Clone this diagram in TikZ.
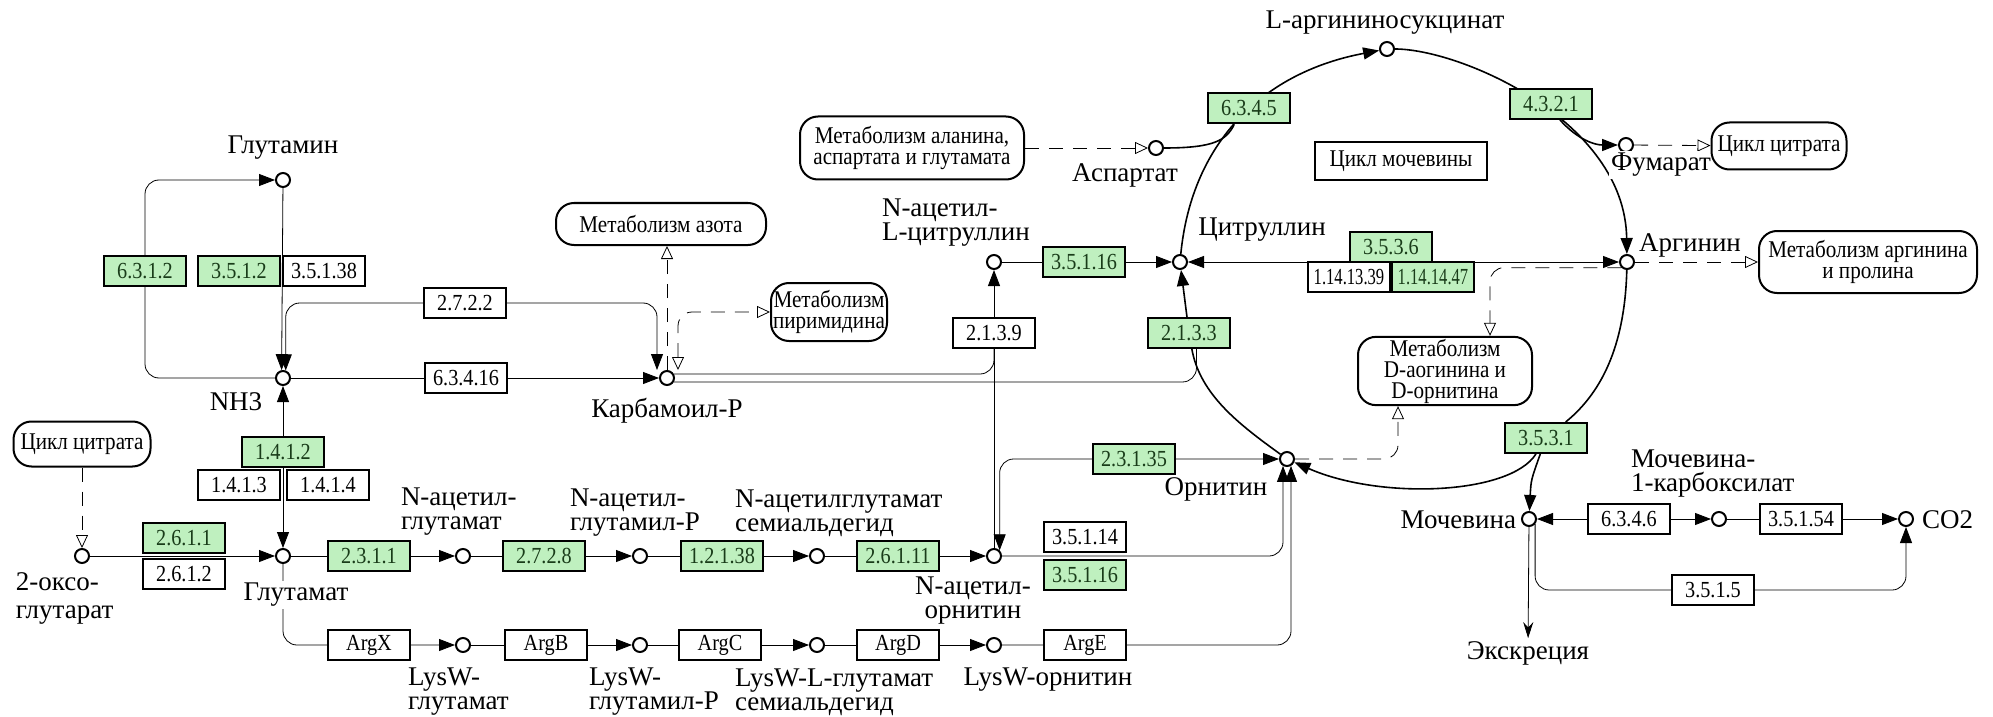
\documentclass[tikz,border=0pt]{standalone}
\usepackage{fontspec}
\setmainfont{Liberation Serif}
\newfontfamily\keggfont{Liberation Serif}
\newfontfamily\keggcond[FakeStretch=0.88]{Liberation Serif}
\usepackage{graphicx}
\usetikzlibrary{arrows.meta, backgrounds}
\definecolor{kegggreen}{RGB}{191,240,191}
\definecolor{keggtext}{RGB}{25,60,25}
\newcommand{\squeeze}[1]{\scalebox{0.82}[1]{#1}}
\tikzset{otri/.tip={Triangle[open,length=6.5pt,width=6pt]}}

\begin{document}
\begin{tikzpicture}[x=0.5pt, y=-0.5pt, line width=1pt,
  >={Triangle[length=8pt,width=6pt]},
  cpd/.style={circle, draw, fill=white, minimum size=7pt, inner sep=0pt},
  enz/.style={rectangle, draw, fill=white, minimum width=41pt, minimum height=15pt, inner sep=0pt, font=\keggcond\fontsize{11.5}{12}\selectfont},
  enzg/.style={enz, fill=kegggreen, text=keggtext},
  lbl/.style={fill=white, inner sep=1pt, font=\keggfont\fontsize{13.5}{12}\selectfont},
  mapbox/.style={rectangle, rounded corners=9pt, draw, fill=white, inner sep=1pt, align=center, font=\keggcond\fontsize{12}{10.5}\selectfont},
  mapline/.style={dash pattern=on 7pt off 5pt, -otri},
  ringline/.style={line width=0.8pt}]
      \useasboundingbox (0,0) rectangle (1993,717);
      \node[cpd] (glutamine) at (283,180) {};
      \node[cpd] (nh3) at (283,378) {};
      \node[cpd] (glu) at (283,556) {};
      \node[cpd] (oxo) at (82,556) {};
      \node[cpd] (nag) at (463,556) {};
      \node[cpd] (nagp) at (640,556) {};
      \node[cpd] (nags) at (817,556) {};
      \node[cpd] (nao) at (994,556) {};
      \node[cpd] (lysglu) at (463,645) {};
      \node[cpd] (lysglup) at (640,645) {};
      \node[cpd] (lysglus) at (817,645) {};
      \node[cpd] (lysorn) at (994,645) {};
      \node[cpd] (cp) at (667,378) {};
      \node[cpd] (nacit) at (994,262) {};
      \node[cpd] (cit) at (1180,262) {};
      \node[cpd] (asp) at (1156,148) {};
      \node[cpd] (argsuc) at (1387,49) {};
      \node[cpd] (fum) at (1626,145) {};
      \node[cpd] (arg) at (1627,262) {};
      \node[cpd] (orn) at (1287,459) {};
      \node[cpd] (urea) at (1529,519) {};
      \node[cpd] (ureac) at (1719,519) {};
      \node[cpd] (co2) at (1906,519) {};

      \node[lbl] (glutamine-l) at (283,148) {Глутамин};
      \node[lbl] (nh3-l) at (236,402) {NH3};
      \node[lbl] (glu-l) at (296,595) {Глутамат};
      \node[lbl, anchor=west, align=left] (oxo-l) at (13,598) {2-оксо-\\[2pt]глутарат};
      \node[lbl, anchor=west, align=left] (nag-l) at (398,512) {N-ацетил-\\глутамат};
      \node[lbl, anchor=west, align=left] (nagp-l) at (567,513) {N-ацетил-\\глутамил-P};
      \node[lbl, anchor=west, align=left] (nags-l) at (732,513) {N-ацетилглутамат\\семиальдегид};
      \node[lbl, align=center] (nao-l) at (973,601) {N-ацетил-\\орнитин};
      \node[lbl, anchor=west, align=left] (lysglu-l) at (405,692) {LysW-\\глутамат};
      \node[lbl, anchor=west, align=left] (lysglup-l) at (586,692) {LysW-\\глутамил-P};
      \node[lbl, anchor=west, align=left] (lysglus-l) at (732,692) {LysW-L-глутамат\\семиальдегид};
      \node[lbl] (lysorn-l) at (1048,680) {LysW-орнитин};
      \node[lbl] (cp-l) at (667,411) {Карбамоил-P};
      \node[lbl, anchor=west, align=left] (nacit-l) at (879,223) {N-ацетил-\\L-цитруллин};
      \node[lbl] (cit-l) at (1262,230) {Цитруллин};
      \node[lbl] (asp-l) at (1125,175) {Аспартат};
      \node[lbl] (argsuc-l) at (1385,23) {L-аргининосукцинат};
      \node[lbl] (fum-l) at (1661,165) {Фумарат};
      \node[lbl] (arg-l) at (1690,245) {Аргинин};
      \node[lbl] (orn-l) at (1216,489) {Орнитин};
      \node[lbl, anchor=east] (urea-l) at (1519,520) {Мочевина};
      \node[lbl, anchor=west, align=left] (ureac-l) at (1628,474) {Мочевина-\\1-карбоксилат};
      \node[lbl, anchor=west] (co2-l) at (1919,520) {CO2};
      \node[lbl] (excr) at (1528,653) {Экскреция};

      \node[enzg] (e6312) at (145,271) {6.3.1.2};
      \node[enzg] (e3512) at (239,271) {3.5.1.2};
      \node[enz] (e35138) at (324,271) {3.5.1.38};
      \node[enz] (e2722) at (465,303) {2.7.2.2};
      \node[enz] (e63416) at (466,378) {6.3.4.16};
      \node[enzg] (e1412) at (283,452) {1.4.1.2};
      \node[enz] (e1413) at (239,485) {1.4.1.3};
      \node[enz] (e1414) at (328,485) {1.4.1.4};
      \node[enzg] (e2611) at (184,538) {2.6.1.1};
      \node[enz] (e2612) at (184,574) {2.6.1.2};
      \node[enzg] (e2311) at (369,556) {2.3.1.1};
      \node[enzg] (e2728) at (544,556) {2.7.2.8};
      \node[enzg] (e12138) at (722,556) {1.2.1.38};
      \node[enzg] (e26111) at (898,556) {2.6.1.11};
      \node[enz] (argx) at (369,645) {ArgX};
      \node[enz] (argb) at (546,645) {ArgB};
      \node[enz] (argc) at (720,645) {ArgC};
      \node[enz] (argd) at (898,645) {ArgD};
      \node[enz] (arge) at (1085,645) {ArgE};
      \node[enz] (e35114) at (1085,537) {3.5.1.14};
      \node[enzg] (e35116b) at (1085,575) {3.5.1.16};
      \node[enzg] (e23135) at (1134,459) {2.3.1.35};
      \node[enz] (e2139) at (994,333) {2.1.3.9};
      \node[enzg] (e2133) at (1189,333) {2.1.3.3};
      \node[enzg] (e35116) at (1084,262) {3.5.1.16};
      \node[enzg] (e6345) at (1249,108) {6.3.4.5};
      \node[enzg] (e4321) at (1551,104) {4.3.2.1};
      \node[enzg] (e3536) at (1391,247) {3.5.3.6};
      \node[enz] (e1141339) at (1349,277) {\squeeze{1.14.13.39}};
      \node[enzg] (e1141447) at (1433,277) {\squeeze{1.14.14.47}};
      \node[enzg] (e3531) at (1546,438) {3.5.3.1};
      \node[enz] (e6346) at (1629,519) {6.3.4.6};
      \node[enz] (e35154) at (1801,519) {3.5.1.54};
      \node[enz] (e3515) at (1713,590) {3.5.1.5};

      \node[mapbox, minimum width=68.5pt, minimum height=22.5pt] (cit1) at (82,444) {Цикл цитрата};
      \node[mapbox, minimum width=112pt, minimum height=31.5pt] (ala) at (912,148) {Метаболизм аланина,\\аспартата и глутамата};
      \node[mapbox, minimum width=105pt, minimum height=21pt] (nitrogen) at (661,224) {Метаболизм азота};
      \node[mapbox, minimum width=58pt, minimum height=29pt] (pyr) at (829,312) {Метаболизм\\пиримидина};
      \node[mapbox, minimum width=67.5pt, minimum height=23.5pt] (cit2) at (1779,146) {Цикл цитрата};
      \node[mapbox, minimum width=109pt, minimum height=31pt] (argpro) at (1868,262) {Метаболизм аргинина\\и пролина};
      \node[mapbox, minimum width=87pt, minimum height=33pt] (darg) at (1445,371) {Метаболизм\\D-аогинина и\\D-орнитина};
      \node[draw, fill=white, minimum width=86pt, minimum height=19pt, inner sep=1pt, font=\keggcond\fontsize{12}{12}\selectfont] (ucycle) at (1401,161) {Цикл мочевины};
      \coordinate (aspjoin) at (1234,125);
      \coordinate (fumjoin) at (1560,120);

      \begin{scope}[on background layer]
      \draw[->, rounded corners=7pt] (nh3) -| (e6312) |- (glutamine);
      \draw[->] (glutamine) -- (nh3.100);
      \draw[->, rounded corners=7pt] (e2722) -| (nh3.70);
      \draw[->, rounded corners=7pt] (e2722) -| ([xshift=-5pt]cp.north);
      \draw[->] (nh3) -- (cp);
      \draw[<->] (nh3) -- (glu);
      \draw[->] (oxo) -- (glu);
      \draw[mapline] (cit1) -- (oxo);
      \draw[->] (glu) -- (nag);
      \draw[->] (nag) -- (nagp);
      \draw[->] (nagp) -- (nags);
      \draw[->] (nags) -- (nao);
      \draw[->, rounded corners=7pt] (glu) |- (lysglu);
      \draw[->] (lysglu) -- (lysglup);
      \draw[->] (lysglup) -- (lysglus);
      \draw[->] (lysglus) -- (lysorn);
      \draw[->, rounded corners=7pt] (lysorn) -| (orn.-60);
      \draw[->, rounded corners=7pt] (nao) -| (orn.-120);
      \draw[->] (nao) -- (nacit);
      \draw[<->, rounded corners=7pt] (nao.45) |- (orn);
      \draw[->] (nacit) -- (cit);
      \draw[<->] (arg) -- (cit);
      \draw[rounded corners=7pt] (cp.30) -| (e2139);
      \draw[rounded corners=7pt] (cp.-30) -| (e2133.-65);
      \draw[mapline] (cp) -- (cp |- nitrogen.south);
      \draw[mapline, otri-otri, rounded corners=7pt] ([xshift=5.5pt]cp.north) |- (pyr);
      \draw[mapline] (ala) -- (asp);
      \draw[ringline] (asp) .. controls (1215,148) and (1226,140) .. (aspjoin);
      \draw[ringline, ->] (cit) .. controls (1192,140) and (1265,72) .. (argsuc);
      \draw[ringline, ->] (argsuc) .. controls (1460,49) and (1625,120) .. (arg);
      \draw[ringline, ->] (fumjoin) .. controls (1578,140) and (1595,145) .. (fum);
      \draw[mapline] (fum) -- (cit2);
      \draw[ringline] (arg) .. controls (1625,340) and (1605,390) .. (e3531);
      \draw[ringline, ->] (e3531) .. controls (1510,495) and (1380,500) .. (orn);
      \draw[ringline, ->] (e3531) .. controls (1531,480) .. (urea);
      \draw[ringline] (orn) .. controls (1240,425) and (1200,395) .. (e2133);
      \draw[ringline, ->] (e2133) -- (cit);
      \draw[mapline] (arg) -- (argpro);
      \draw[mapline, rounded corners=7pt] (arg.225) -| ([xshift=22.5pt]darg.north);
      \draw[mapline, rounded corners=7pt] (orn) -| ([xshift=-23.5pt]darg.south);
      \draw[<->] (urea) -- (ureac);
      \draw[->] (ureac) -- (co2);
      \draw[->, rounded corners=7pt] (urea.-40) |- (e3515) -| (co2);
      \draw[-{Stealth[length=8pt,width=5pt]}] (urea) -- (excr);
      \end{scope}
    \end{tikzpicture}
\end{document}
